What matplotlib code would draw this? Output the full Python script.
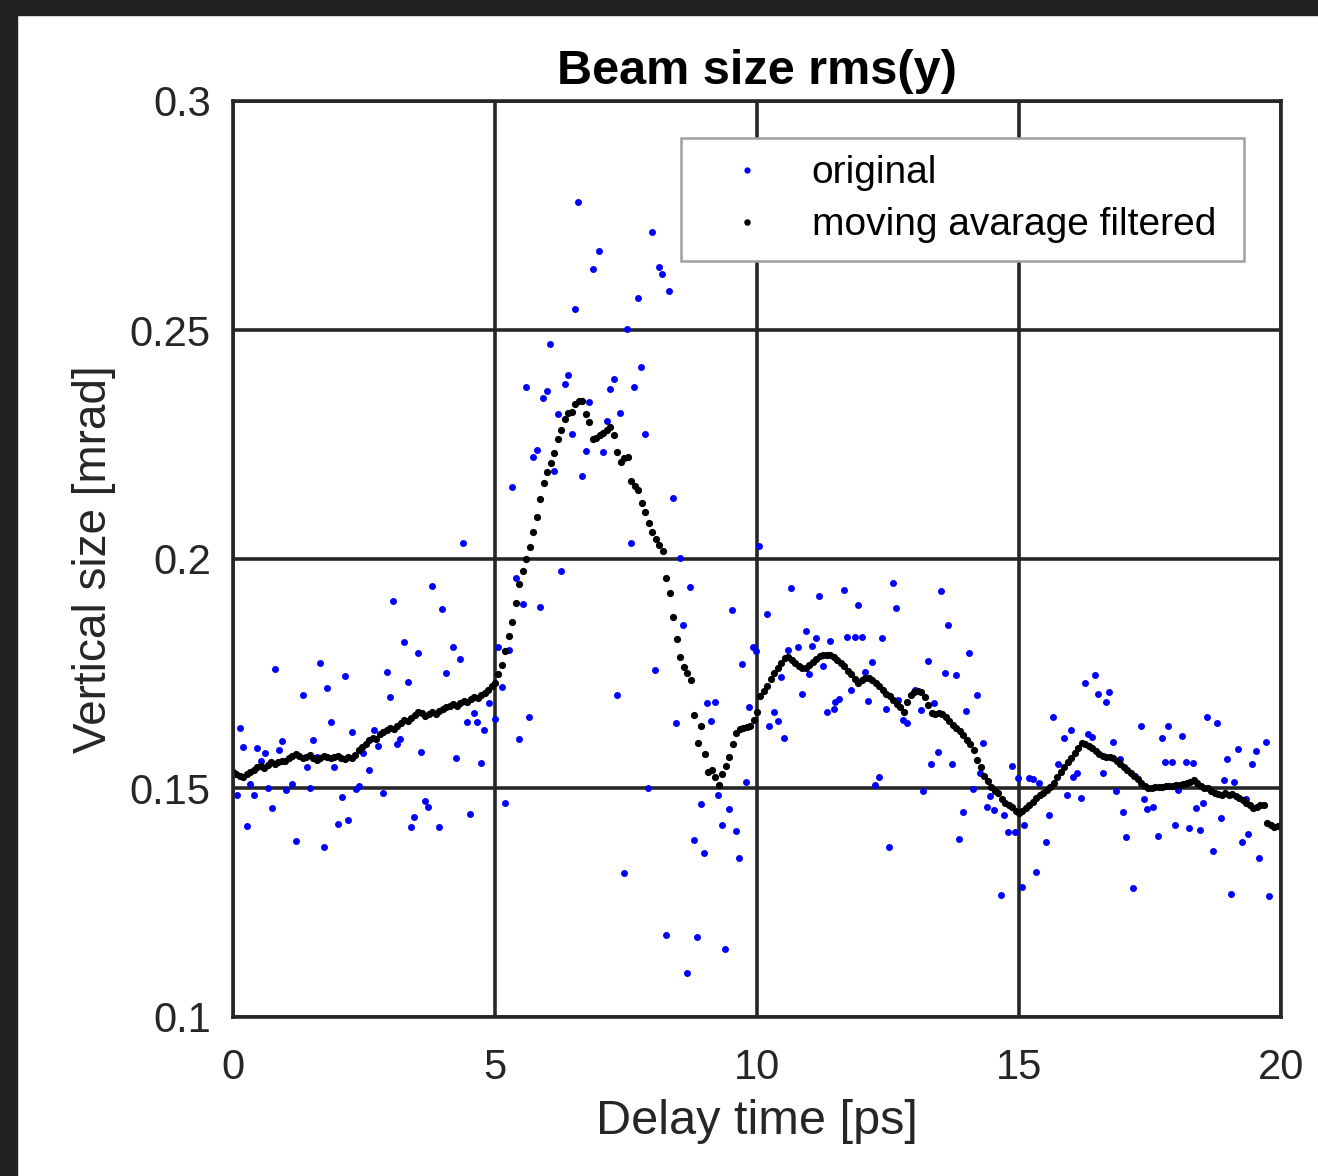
import numpy as np
import matplotlib
matplotlib.use('Agg')
import matplotlib.pyplot as plt
from matplotlib.patches import Rectangle

plt.rcParams['font.family'] = ['Liberation Sans', 'DejaVu Sans']

# original measurement (delay [ps], vertical size [mrad])
orig_x = [4.39, 3.80, 3.05, 3.99, 3.26, 3.53, 4.20, 4.33, 0.80, 1.66, 2.14, 2.94, 3.34, 4.06,
          1.34, 1.79, 3.00, 0.13, 1.87, 2.27, 2.69, 0.94, 1.53, 0.19, 0.46, 0.61, 0.88, 3.19,
          3.13, 2.77, 2.48, 3.59, 4.47, 4.66, 4.79, 4.60, 4.89, 5.00, 5.13, 5.06, 4.26, 4.73,
          0.53, 1.60, 1.41, 1.93, 2.60, 0.32, 0.07, 0.40, 0.67, 1.01, 1.13, 1.47, 2.08, 2.35,
          2.40, 2.86, 0.74, 3.66, 3.72, 3.45, 3.40, 3.93, 4.52, 0.27, 2.00, 2.19, 1.20, 1.74,
          5.19,
          6.58, 8.00, 6.98, 6.87, 8.13, 8.19, 8.32, 7.73, 6.53, 7.52, 6.05, 7.79, 6.39, 5.59,
          6.34, 7.27, 5.99, 7.19, 7.65, 5.92, 6.79, 6.20, 7.39, 7.14, 6.47, 7.86, 5.80, 5.73,
          6.74, 7.06, 6.13, 6.66, 5.32, 8.40, 7.60, 8.53, 10.04, 6.26, 5.40,
          8.72, 5.53, 5.86, 9.52, 10.19, 8.59, 5.27, 9.92, 9.99, 9.71, 8.05, 7.33, 9.05, 9.20,
          9.85, 5.65, 8.46, 9.12, 10.23, 5.46, 9.79, 7.92, 8.93, 9.26, 9.47, 9.33, 9.60, 8.80,
          8.99, 9.66, 7.46, 8.26, 8.85, 9.39, 8.66,
          10.65, 11.18, 11.66, 12.60, 13.51, 11.93, 12.65, 13.65, 10.94, 11.13, 11.39, 11.72,
          11.87, 12.00, 12.39, 10.78, 11.05, 10.59, 14.05, 11.26, 12.19, 13.26, 10.46, 10.99,
          12.06, 13.59, 13.80, 10.86, 11.79, 13.02, 14.20, 11.57, 11.49, 12.12, 12.69, 13.38,
          10.32, 11.34, 11.47, 12.46, 13.13, 13.99, 10.40, 12.79, 12.86, 10.52, 14.31, 13.45,
          13.32, 13.72, 14.87, 12.33, 12.25, 13.17, 14.12, 14.26, 14.45, 13.93, 14.39, 14.52,
          14.71, 14.79, 14.92, 13.85, 12.52, 14.66,
          16.45, 16.26, 16.51, 16.72, 16.66, 15.65, 18.59, 18.78, 15.99, 17.33, 17.84, 15.86,
          16.32, 16.39, 17.73, 18.11, 16.79, 19.18, 19.52, 19.71, 18.97, 19.45, 17.79, 17.92,
          18.19, 18.32, 16.93, 15.74, 16.60, 16.10, 16.03, 14.98, 15.19, 15.27, 15.38, 17.21,
          18.91, 19.10, 16.85, 15.92, 16.18, 18.03, 17.39, 19.33, 18.51, 18.38, 17.44, 17.56,
          15.57, 16.98, 18.85, 15.10, 17.98, 18.24, 18.45, 19.37, 19.26, 15.52, 17.04, 17.65,
          18.70, 19.58, 15.32, 15.06, 17.18, 19.05, 19.77]
orig_y = [0.2035, 0.1941, 0.1908, 0.1891, 0.1819, 0.1795, 0.1808, 0.1782, 0.1760, 0.1773, 0.1745,
          0.1753, 0.1731, 0.1751, 0.1703, 0.1718, 0.1699, 0.1631, 0.1644, 0.1622, 0.1627, 0.1603,
          0.1605, 0.1590, 0.1587, 0.1576, 0.1583, 0.1607, 0.1596, 0.1592, 0.1576, 0.1579, 0.1644,
          0.1644, 0.1627, 0.1664, 0.1686, 0.1651, 0.1720, 0.1808, 0.1566, 0.1555, 0.1559, 0.1568,
          0.1546, 0.1546, 0.1540, 0.1509, 0.1485, 0.1485, 0.1500, 0.1496, 0.1509, 0.1500, 0.1480,
          0.1498, 0.1504, 0.1489, 0.1456, 0.1472, 0.1459, 0.1437, 0.1415, 0.1415, 0.1443, 0.1417,
          0.1421, 0.1430, 0.1384, 0.1371, 0.1467,
          0.2780, 0.2714, 0.2672, 0.2633, 0.2637, 0.2622, 0.2585, 0.2570, 0.2546, 0.2502, 0.2469,
          0.2419, 0.2402, 0.2376, 0.2382, 0.2393, 0.2367, 0.2371, 0.2376, 0.2352, 0.2343, 0.2317,
          0.2319, 0.2301, 0.2273, 0.2273, 0.2238, 0.2223, 0.2236, 0.2234, 0.2192, 0.2181, 0.2157,
          0.2133, 0.2035, 0.2002, 0.2028, 0.1974, 0.1959,
          0.1939, 0.1902, 0.1895, 0.1889, 0.1880, 0.1856, 0.1801, 0.1808, 0.1799, 0.1771, 0.1758,
          0.1703, 0.1686, 0.1688, 0.1677, 0.1655, 0.1642, 0.1646, 0.1635, 0.1607, 0.1513, 0.1500,
          0.1465, 0.1485, 0.1454, 0.1419, 0.1406, 0.1386, 0.1358, 0.1347, 0.1314, 0.1179, 0.1175,
          0.1148, 0.1096,
          0.1937, 0.1919, 0.1932, 0.1948, 0.1930, 0.1900, 0.1893, 0.1856, 0.1843, 0.1828, 0.1821,
          0.1830, 0.1830, 0.1830, 0.1828, 0.1808, 0.1810, 0.1801, 0.1795, 0.1766, 0.1775, 0.1777,
          0.1742, 0.1749, 0.1753, 0.1751, 0.1747, 0.1705, 0.1714, 0.1714, 0.1703, 0.1694, 0.1688,
          0.1690, 0.1692, 0.1686, 0.1666, 0.1666, 0.1672, 0.1672, 0.1670, 0.1668, 0.1646, 0.1648,
          0.1642, 0.1609, 0.1598, 0.1579, 0.1552, 0.1552, 0.1548, 0.1524, 0.1507, 0.1493, 0.1498,
          0.1533, 0.1483, 0.1448, 0.1459, 0.1452, 0.1441, 0.1404, 0.1404, 0.1389, 0.1371, 0.1266,
          0.1747, 0.1729, 0.1705, 0.1710, 0.1688, 0.1655, 0.1655, 0.1642, 0.1627, 0.1635, 0.1635,
          0.1609, 0.1618, 0.1611, 0.1609, 0.1614, 0.1600, 0.1585, 0.1581, 0.1600, 0.1563, 0.1552,
          0.1557, 0.1557, 0.1557, 0.1555, 0.1563, 0.1552, 0.1533, 0.1533, 0.1524, 0.1522, 0.1522,
          0.1520, 0.1511, 0.1526, 0.1518, 0.1513, 0.1493, 0.1485, 0.1478, 0.1496, 0.1476, 0.1476,
          0.1467, 0.1456, 0.1454, 0.1459, 0.1441, 0.1448, 0.1435, 0.1419, 0.1419, 0.1413, 0.1408,
          0.1400, 0.1382, 0.1382, 0.1393, 0.1395, 0.1362, 0.1347, 0.1317, 0.1284, 0.1282, 0.1269,
          0.1264]

# moving average filtered, one value per delay step (0 .. 20 ps)
filtered_y = [
    0.1535, 0.1530, 0.1526, 0.1524, 0.1530, 0.1536, 0.1540, 0.1545, 0.1548, 0.1544, 0.1550, 0.1556, 0.1552, 0.1557, 0.1560,
    0.1558, 0.1565, 0.1570, 0.1574, 0.1570, 0.1566, 0.1568, 0.1572, 0.1566, 0.1562, 0.1565, 0.1570, 0.1568, 0.1565, 0.1568,
    0.1570, 0.1566, 0.1564, 0.1568, 0.1566, 0.1572, 0.1582, 0.1590, 0.1596, 0.1604, 0.1610, 0.1608, 0.1618, 0.1622, 0.1626,
    0.1630, 0.1628, 0.1636, 0.1642, 0.1648, 0.1646, 0.1652, 0.1660, 0.1666, 0.1664, 0.1658, 0.1662, 0.1666, 0.1662, 0.1668,
    0.1672, 0.1676, 0.1680, 0.1684, 0.1680, 0.1686, 0.1690, 0.1688, 0.1694, 0.1698, 0.1696, 0.1702, 0.1708, 0.1714, 0.1722,
    0.1730, 0.1748, 0.1768, 0.1800, 0.1832, 0.1862, 0.1904, 0.1946, 0.1974, 0.2000, 0.2026, 0.2058, 0.2092, 0.2132, 0.2165,
    0.2190, 0.2210, 0.2232, 0.2262, 0.2282, 0.2306, 0.2318, 0.2322, 0.2338, 0.2344, 0.2344, 0.2316, 0.2300, 0.2262, 0.2264,
    0.2270, 0.2276, 0.2282, 0.2288, 0.2270, 0.2234, 0.2212, 0.2220, 0.2222, 0.2170, 0.2160, 0.2150, 0.2122, 0.2102, 0.2079,
    0.2060, 0.2044, 0.2030, 0.2018, 0.1958, 0.1925, 0.1873, 0.1826, 0.1786, 0.1765, 0.1752, 0.1736, 0.1660, 0.1598, 0.1635,
    0.1574, 0.1535, 0.1540, 0.1524, 0.1506, 0.1530, 0.1548, 0.1568, 0.1596, 0.1620, 0.1628, 0.1630, 0.1634, 0.1636, 0.1648,
    0.1665, 0.1700, 0.1712, 0.1722, 0.1738, 0.1752, 0.1762, 0.1774, 0.1784, 0.1786, 0.1780, 0.1772, 0.1766, 0.1762, 0.1762,
    0.1768, 0.1776, 0.1782, 0.1788, 0.1790, 0.1791, 0.1790, 0.1786, 0.1780, 0.1774, 0.1766, 0.1756, 0.1748, 0.1738, 0.1730,
    0.1736, 0.1740, 0.1740, 0.1736, 0.1730, 0.1722, 0.1714, 0.1706, 0.1700, 0.1692, 0.1684, 0.1676, 0.1666, 0.1688, 0.1702,
    0.1710, 0.1712, 0.1710, 0.1698, 0.1682, 0.1664, 0.1662, 0.1664, 0.1662, 0.1654, 0.1646, 0.1638, 0.1632, 0.1624, 0.1615,
    0.1605, 0.1595, 0.1583, 0.1562, 0.1545, 0.1526, 0.1515, 0.1502, 0.1494, 0.1490, 0.1476, 0.1467, 0.1462, 0.1458, 0.1450,
    0.1445, 0.1450, 0.1456, 0.1462, 0.1470, 0.1478, 0.1485, 0.1490, 0.1496, 0.1503, 0.1510, 0.1524, 0.1536, 0.1546, 0.1556,
    0.1566, 0.1577, 0.1588, 0.1598, 0.1597, 0.1592, 0.1587, 0.1580, 0.1574, 0.1570, 0.1568, 0.1568, 0.1566, 0.1560, 0.1552,
    0.1546, 0.1540, 0.1533, 0.1527, 0.1520, 0.1512, 0.1504, 0.1500, 0.1500, 0.1502, 0.1502, 0.1503, 0.1504, 0.1505, 0.1504,
    0.1507, 0.1506, 0.1508, 0.1510, 0.1514, 0.1518, 0.1510, 0.1504, 0.1500, 0.1500, 0.1494, 0.1490, 0.1486, 0.1485, 0.1490,
    0.1485, 0.1486, 0.1482, 0.1478, 0.1474, 0.1468, 0.1462, 0.1456, 0.1458, 0.1462, 0.1463, 0.1424, 0.1420, 0.1415, 0.1418, 0.1420,
]
filtered_x = np.linspace(0, 20, len(filtered_y))

x_ticks = [0, 5, 10, 15, 20]
y_ticks = [0.1, 0.15, 0.2, 0.25, 0.3]
y_ticklabels = ['0.1', '0.15', '0.2', '0.25', '0.3']

dark = '#262626'

fig = plt.figure(figsize=(13.18, 11.76), dpi=100)
# dark strips at top and left of the screenshot
fig.patches.append(Rectangle((0, 0), 17 / 1318, 1, transform=fig.transFigure,
                             color='#212121', zorder=-1))
fig.patches.append(Rectangle((0, 1 - 15 / 1176), 1, 15 / 1176, transform=fig.transFigure,
                             color='#212121', zorder=-1))

ax = fig.add_axes([233 / 1318, 159 / 1176, 1048 / 1318, 916 / 1176])

ax.plot(orig_x, orig_y, 'o', color='blue', markersize=5.0, markeredgewidth=0, label='original')
ax.plot(filtered_x, filtered_y, 'o', color='black', markersize=5.2, markeredgewidth=0,
        label='moving avarage filtered')

ax.set_xlim(0, 20)
ax.set_ylim(0.1, 0.3)
ax.set_xticks(x_ticks)
ax.set_yticks(y_ticks)
ax.set_yticklabels(y_ticklabels)
ax.tick_params(length=0, labelsize=30, labelcolor=dark)
ax.tick_params(axis='x', pad=22)
ax.tick_params(axis='y', pad=16)
ax.grid(True, color=dark, linewidth=2.6)
for sp in ax.spines.values():
    sp.set_linewidth(2.6)
    sp.set_color(dark)

ax.set_xlabel('Delay time [ps]', fontsize=35, color=dark, labelpad=8)
ax.set_ylabel('Vertical size [mrad]', fontsize=33, color=dark, labelpad=10)
ax.set_title('Beam size rms(y)', fontsize=35, fontweight='bold', color='black', pad=12)

# legend box spans 681..1244 px horizontally, top at 138 px
leg = ax.legend(loc='upper left', bbox_to_anchor=(0.4275, 0.5, 0.5372, 0.4596),
                mode='expand', borderaxespad=0,
                fontsize=28, frameon=True, fancybox=False, framealpha=1,
                edgecolor='#a0a0a0', borderpad=0.44, handlelength=2.5,
                handletextpad=0.42, labelspacing=0.42, markerscale=0.9)
leg.get_frame().set_linewidth(1.8)
for t in leg.get_texts():
    t.set_color('black')

fig.savefig('out.png', dpi=100)
